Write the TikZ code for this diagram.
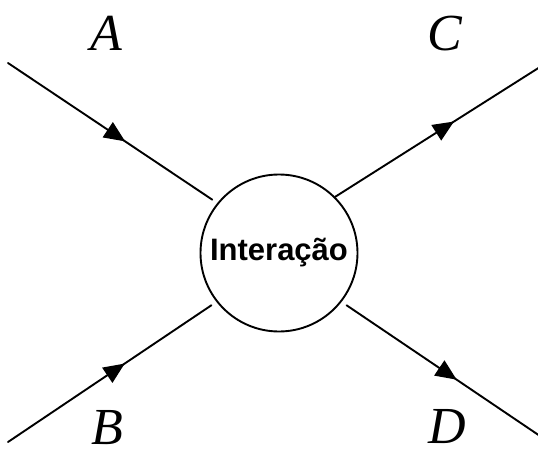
\documentclass[tikz,border=0pt]{standalone}
\usepackage{fontspec}
\setmainfont{Liberation Serif}
\newfontfamily\labelsans{Liberation Sans}
\usetikzlibrary{decorations.markings,arrows.meta}
\tikzset{
  line/.style={line width=1.9pt, line cap=round},
  midarrow/.style={postaction={decorate}, decoration={markings,
    mark=at position #1 with {\arrow{Triangle[length=21pt,width=18pt]}}}},
  particle/.style={font=\fontsize{52}{60}\selectfont\itshape, anchor=base, inner sep=0pt},
  vertex/.style={circle, draw, line width=1.9pt, minimum size=157pt, inner sep=0pt,
    font=\labelsans\bfseries\fontsize{31}{36}\selectfont},
}
\begin{document}
\begin{tikzpicture}[x=1pt, y=-1pt]
  \useasboundingbox (0,0) rectangle (538,455);
  % interaction vertex
  \node[vertex] (I) at (279,253) {Interação};
  % free ends of the four legs
  \coordinate (a) at (8,63);
  \coordinate (b) at (8,442);
  \coordinate (c) at (540,67);
  \coordinate (d) at (540,436);
  % incoming legs
  \draw[line, midarrow=0.56, shorten >=6pt] (a) -- (I.141);
  \draw[line, midarrow=0.56, shorten >=6pt] (b) -- (I.218);
  % outgoing legs
  \draw[line, midarrow=0.58] (I.45.5) -- (c);
  \draw[line, midarrow=0.58, shorten <=6pt] (I.322) -- (d);
  % labels
  \node[particle] (la) at (106,50) {A};
  \node[particle] (lc) at (445,50) {C};
  \node[particle] (lb) at (107,444) {B};
  \node[particle] (ld) at (447,443) {D};
\end{tikzpicture}
\end{document}
